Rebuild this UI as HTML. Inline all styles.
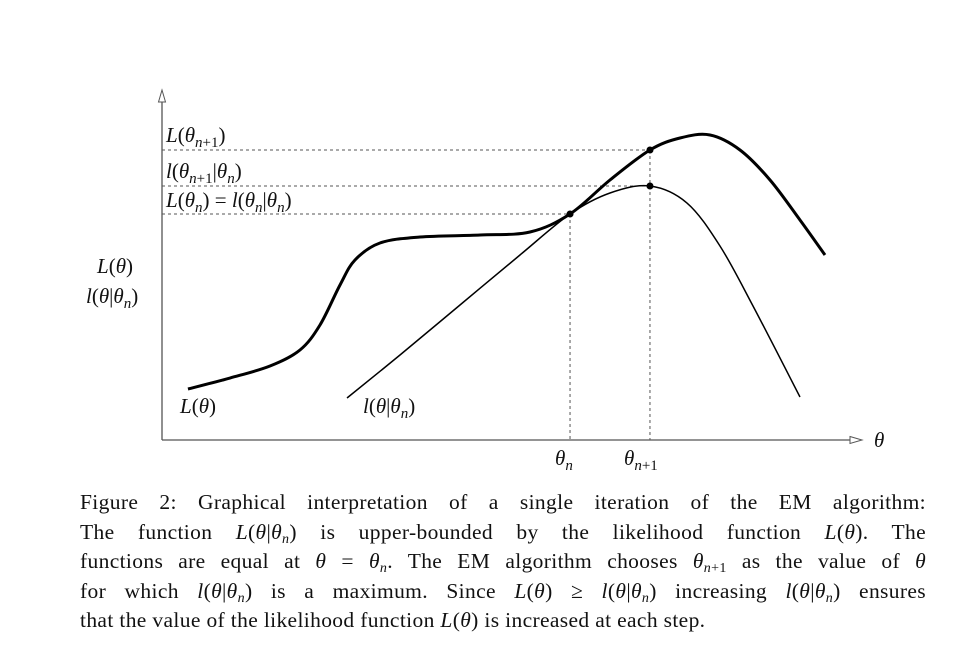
<!DOCTYPE html>
<html><head><meta charset="utf-8"><style>
body{margin:0;background:#fff;width:977px;height:662px;overflow:hidden;font-family:"Liberation Serif",serif}
#cap{position:absolute;left:80px;top:488px;width:846px;font-size:21.5px;letter-spacing:0.35px;color:#111}
#cap div{height:29.5px;line-height:29.5px;text-align:justify;text-align-last:justify;white-space:nowrap}
#cap div.last{text-align-last:left}
i{font-style:italic}
sub{font-size:14px;line-height:0;vertical-align:-4px}
</style></head><body>
<svg id="chart" width="977" height="480" style="position:absolute;left:0;top:0" font-family="Liberation Serif,serif" font-size="21"></svg>
<div id="cap">
<div>Figure 2: Graphical interpretation of a single iteration of the EM algorithm:</div>
<div>The function <i>L</i>(<i>θ</i>|<i>θ<sub>n</sub></i>) is upper-bounded by the likelihood function <i>L</i>(<i>θ</i>). The</div>
<div>functions are equal at <i>θ</i> = <i>θ<sub>n</sub></i>. The EM algorithm chooses <i>θ</i><sub><i>n</i>+1</sub> as the value of <i>θ</i></div>
<div>for which <i>l</i>(<i>θ</i>|<i>θ<sub>n</sub></i>) is a maximum. Since <i>L</i>(<i>θ</i>) ≥ <i>l</i>(<i>θ</i>|<i>θ<sub>n</sub></i>) increasing <i>l</i>(<i>θ</i>|<i>θ<sub>n</sub></i>) ensures</div>
<div class="last">that the value of the likelihood function <i>L</i>(<i>θ</i>) is increased at each step.</div>
</div>
<script>
const likeT=[0.371,0.971,1.543,1.971,2.257,2.543,2.757,3.114,3.686,4.543,5.257,5.829,6.4,6.971,7.4,7.829,8.257,8.686,9.114,9.471];
const likeV=[1.457,1.771,2.114,2.571,3.286,4.429,5.143,5.629,5.8,5.857,5.943,6.457,7.429,8.286,8.629,8.714,8.286,7.429,6.286,5.286];
const lowT=[2.643,3.4,4.257,5.114,5.829,6.4,6.971,7.5,7.971,8.443,9.114];
const lowV=[1.2,2.429,3.857,5.286,6.457,7.057,7.257,6.771,5.543,3.829,1.229];
const thetaN=5.829, thetaN1=6.971;
const valN=6.457, lowN1=7.257, likeN1=8.286;
const X=t=>162+t*70, Y=v=>440-v*35;
const svg=document.getElementById('chart');
const NS='http://www.w3.org/2000/svg';
function mk(tag,a){const e=document.createElementNS(NS,tag);for(const k in a)e.setAttribute(k,a[k]);svg.appendChild(e);return e;}
function smooth(ts,vs){const p=ts.map((t,i)=>[X(t),Y(vs[i])]);let d='M'+p[0];for(let i=0;i<p.length-1;i++){const p0=p[i-1]||p[i],p1=p[i],p2=p[i+1],p3=p[i+2]||p2;const c1=[p1[0]+(p2[0]-p0[0])/6,p1[1]+(p2[1]-p0[1])/6],c2=[p2[0]-(p3[0]-p1[0])/6,p2[1]-(p3[1]-p1[1])/6];d+='C'+c1+' '+c2+' '+p2;}return d;}
let e;
e=mk('line',{x1:162,y1:440,x2:162,y2:100,stroke:'#555','stroke-width':1.3});

e=mk('path',{d:'M158.5,102 L162,90 L165.5,102 Z',fill:'#fff',stroke:'#555','stroke-width':1});

e=mk('line',{x1:162,y1:440,x2:852,y2:440,stroke:'#555','stroke-width':1.3});

e=mk('path',{d:'M850,436.5 L862,440 L850,443.5 Z',fill:'#fff',stroke:'#555','stroke-width':1});

[[valN,thetaN],[lowN1,thetaN1],[likeN1,thetaN1]].forEach(([v,t])=>{
 e=mk('line',{x1:162,y1:Y(v),x2:X(t),y2:Y(v),stroke:'#555','stroke-width':1,'stroke-dasharray':'3,3'});
 });
[[thetaN,valN],[thetaN1,likeN1]].forEach(([t,v])=>{
 e=mk('line',{x1:X(t),y1:Y(v),x2:X(t),y2:440,stroke:'#555','stroke-width':1,'stroke-dasharray':'3,3'});
 });
e=mk('path',{d:smooth(lowT,lowV),fill:'none',stroke:'#000','stroke-width':1.5});

e=mk('path',{d:smooth(likeT,likeV),fill:'none',stroke:'#000','stroke-width':3});

[[thetaN,valN],[thetaN1,lowN1],[thetaN1,likeN1]].forEach(([t,v])=>{
 e=mk('circle',{cx:X(t),cy:Y(v),r:3.5,fill:'#000'});
 });
function txt(x,y,html,name){const t=mk('text',{x:x,y:y,fill:'#111'});t.innerHTML=html;}
const it=s=>'<tspan font-style="italic">'+s+'</tspan>';
const sub=s=>'<tspan font-size="15" baseline-shift="-5">'+s+'</tspan>';
txt(166,142,it('L')+'('+it('θ')+sub(it('n')+'+1')+')','label-L-next');
txt(166,178,it('l')+'('+it('θ')+sub(it('n')+'+1')+'|'+it('θ')+sub(it('n'))+')','label-l-next');
txt(166,207,it('L')+'('+it('θ')+sub(it('n'))+') = '+it('l')+'('+it('θ')+sub(it('n'))+'|'+it('θ')+sub(it('n'))+')','label-equal');
txt(97,273,it('L')+'('+it('θ')+')','y-axis-title-1');
txt(86,303,it('l')+'('+it('θ')+'|'+it('θ')+sub(it('n'))+')','y-axis-title-2');
txt(180,413,it('L')+'('+it('θ')+')','curve-label-L');
txt(363,413,it('l')+'('+it('θ')+'|'+it('θ')+sub(it('n'))+')','curve-label-l');
txt(555,465,it('θ')+sub(it('n')),'tick-theta-n');
txt(624,465,it('θ')+sub(it('n')+'+1'),'tick-theta-n1');
txt(874,447,it('θ'),'x-axis-title');
</script>
</body></html>
